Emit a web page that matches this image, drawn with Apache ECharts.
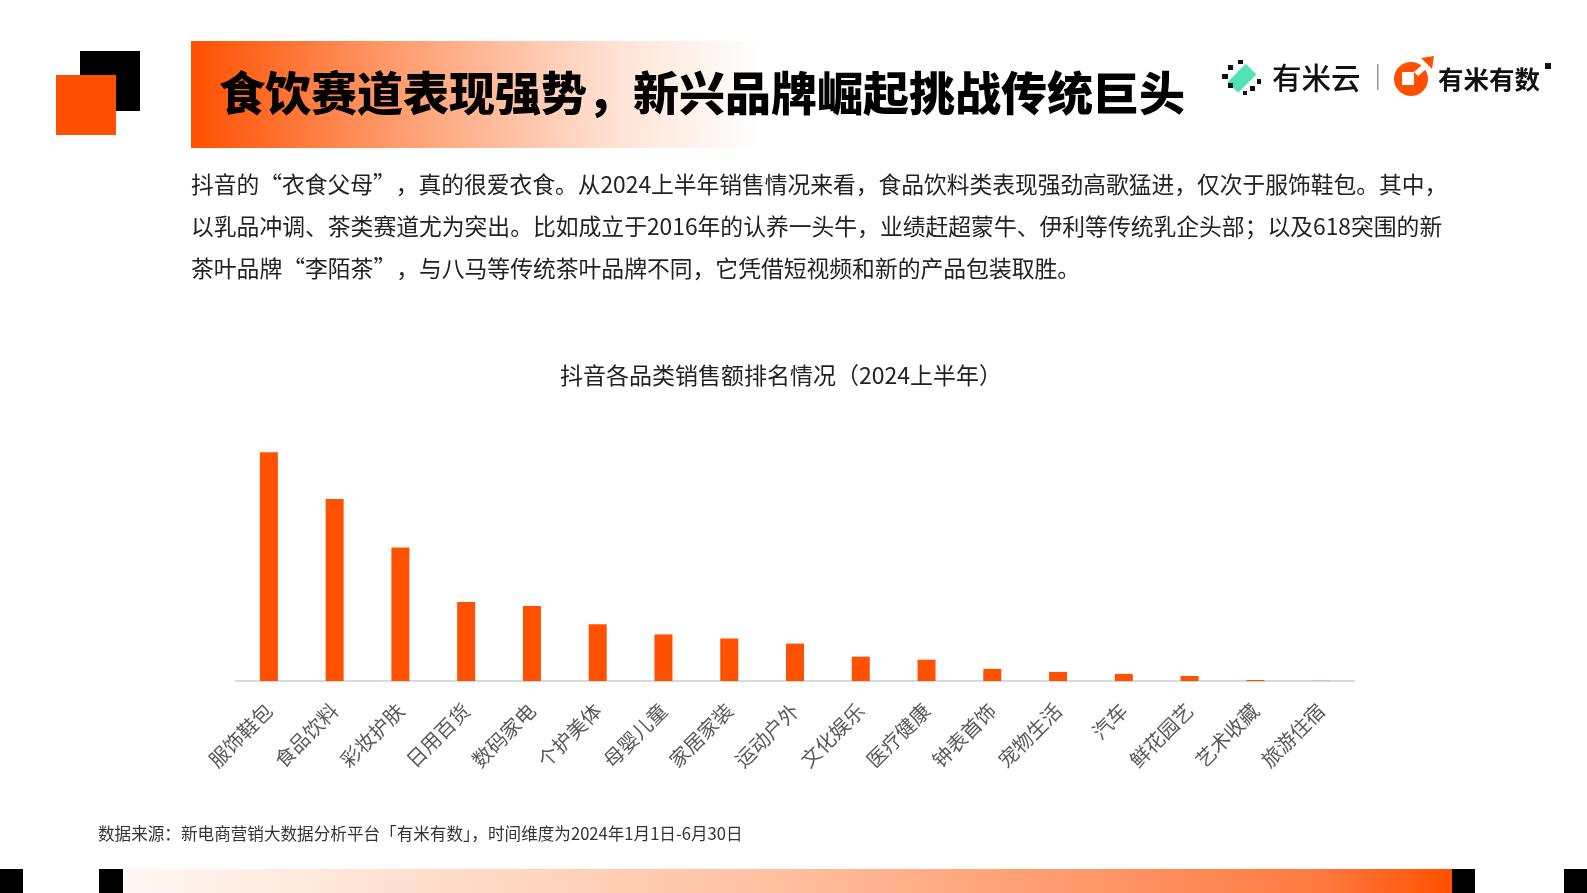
<!DOCTYPE html>
<html>
<head>
<meta charset="utf-8">
<script src="https://cdn.jsdelivr.net/npm/echarts@6/dist/echarts.min.js"></script>
<style>
html,body{margin:0;padding:0;background:#fff;}
#c{width:1587px;height:893px;}
</style>
</head>
<body>
<div id="c"></div>
<script>
const categories = ['服饰鞋包','食品饮料','彩妆护肤','日用百货','数码家电','个护美体','母婴儿童','家居家装','运动户外','文化娱乐','医疗健康','钟表首饰','宠物生活','汽车','鲜花园艺','艺术收藏','旅游住宿'];
const salesIndex = [228.7, 182, 133.6, 79, 75, 56.7, 46.6, 42.5, 37.4, 24.3, 21.3, 12.1, 9.1, 7.1, 5, 1, 0.2];
const pageTitle = '食饮赛道表现强势，新兴品牌崛起挑战传统巨头';
const paragraph = [
  '抖音的“衣食父母”，真的很爱衣食。从2024上半年销售情况来看，食品饮料类表现强劲高歌猛进，仅次于服饰鞋包。其中，',
  '以乳品冲调、茶类赛道尤为突出。比如成立于2016年的认养一头牛，业绩赶超蒙牛、伊利等传统乳企头部；以及618突围的新',
  '茶叶品牌“李陌茶”，与八马等传统茶叶品牌不同，它凭借短视频和新的产品包装取胜。'
];
const chartTitle = '抖音各品类销售额排名情况（2024上半年）';
const sourceNote = '数据来源：新电商营销大数据分析平台「有米有数」，时间维度为2024年1月1日-6月30日';

const FONT = '"Noto Sans CJK SC","Noto Sans",sans-serif';
const ORANGE = '#FF5000';

const chart = echarts.init(document.getElementById('c'));

const graphics = [
  {type:'rect', shape:{x:80,y:51,width:60,height:60}, style:{fill:'#000'}},
  {type:'rect', shape:{x:56,y:75,width:60,height:60}, style:{fill:ORANGE}},
  {type:'rect', shape:{x:191,y:41,width:570,height:107},
    style:{fill:new echarts.graphic.LinearGradient(0,0,1,0,[
      {offset:0,color:'#FF5000'},{offset:0.35,color:'#FF9A6A'},{offset:0.75,color:'#FFE3D6'},{offset:1,color:'rgba(255,255,255,1)'}])}},
  {type:'text', style:{text:pageTitle, x:219, y:93, font:'900 46px '+FONT, fill:'#000', textVerticalAlign:'middle'}},
  {type:'rect', rotation:-Math.PI/4, originX:1243, originY:78, shape:{x:1235,y:66,width:15,height:26}, style:{fill:'#4FE3B6'}},
  {type:'rect', shape:{x:1228,y:65,width:5,height:5}, style:{fill:'#111'}},
  {type:'rect', shape:{x:1222,y:74,width:6,height:5}, style:{fill:'#111'}},
  {type:'rect', shape:{x:1228,y:83,width:5,height:5}, style:{fill:'#111'}},
  {type:'rect', shape:{x:1238,y:60,width:5,height:4}, style:{fill:'#111'}},
  {type:'rect', shape:{x:1250,y:86,width:5,height:5}, style:{fill:'#111'}},
  {type:'rect', shape:{x:1257,y:79,width:4,height:5}, style:{fill:'#111'}},
  {type:'rect', shape:{x:1243,y:91,width:4,height:4}, style:{fill:'#111'}},
  {type:'text', style:{text:'有米云', x:1272, y:78, font:'500 29.5px '+FONT, fill:'#111', textVerticalAlign:'middle'}},
  {type:'rect', shape:{x:1377,y:64,width:1.5,height:26}, style:{fill:'#999'}},
  {type:'circle', shape:{cx:1411,cy:79,r:17}, style:{fill:ORANGE}},
  {type:'rect', shape:{x:1402,y:72,width:12,height:13}, style:{fill:'#fff'}},
  {type:'polygon', shape:{points:[[1414,72],[1430,58],[1433,63],[1418,76]]}, style:{fill:'#fff'}},
  {type:'polygon', shape:{points:[[1421,58],[1434,56],[1432,69]]}, style:{fill:ORANGE}},
  {type:'text', style:{text:'有米有数', x:1438, y:79, font:'700 25.5px '+FONT, fill:'#111', textVerticalAlign:'middle'}},
  {type:'rect', shape:{x:1545,y:63,width:6,height:6}, style:{fill:'#111'}},
  {type:'text', style:{text:paragraph[0], x:191, y:184, font:'400 22.75px '+FONT, fill:'#222', textVerticalAlign:'middle'}},
  {type:'text', style:{text:paragraph[1], x:191, y:226, font:'400 22.8px '+FONT, fill:'#222', textVerticalAlign:'middle'}},
  {type:'text', style:{text:paragraph[2], x:191, y:268, font:'400 22.8px '+FONT, fill:'#222', textVerticalAlign:'middle'}},
  {type:'text', style:{text:sourceNote, x:98, y:834, font:'400 16.6px '+FONT, fill:'#333', textVerticalAlign:'middle'}},
  {type:'rect', shape:{x:0,y:869,width:23,height:24}, style:{fill:'#000'}},
  {type:'rect', shape:{x:99,y:869,width:24,height:24}, style:{fill:'#000'}},
  {type:'rect', shape:{x:123,y:869,width:1329,height:24},
    style:{fill:new echarts.graphic.LinearGradient(0,0,1,0,[
      {offset:0,color:'#FFF8F4'},{offset:0.5,color:'#FFBE9E'},{offset:0.9,color:'#FF7A40'},{offset:1,color:'#FF5000'}])}},
  {type:'rect', shape:{x:1452,y:869,width:23,height:24}, style:{fill:'#000'}},
  {type:'rect', shape:{x:1564,y:869,width:23,height:24}, style:{fill:'#000'}}
];

chart.setOption({
  animation:false,
  backgroundColor:'#fff',
  title:{
    text:chartTitle, left:776, top:359, textAlign:'center',
    textStyle:{fontFamily:FONT, fontSize:23, fontWeight:400, color:'#222'}
  },
  grid:{left:236, width:1118, top:441, bottom:893-681},
  xAxis:{
    type:'category', data:categories,
    axisLine:{lineStyle:{color:'#d9d9d9', width:2}},
    axisTick:{show:false},
    axisLabel:{rotate:45, interval:0, margin:26, color:'#595959', fontSize:20, fontFamily:FONT}
  },
  yAxis:{
    type:'value', min:0, max:240, show:false,
    splitLine:{show:false}
  },
  series:[{
    type:'bar', data:salesIndex, barWidth:18,
    itemStyle:{color:'#FF5100'}
  }],
  graphic:{elements:graphics}
});
</script>
</body>
</html>
